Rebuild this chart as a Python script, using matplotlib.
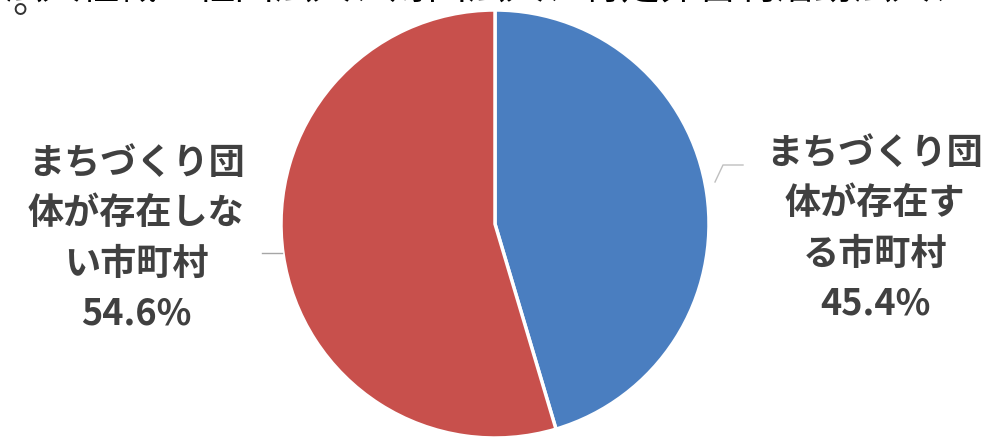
import matplotlib
matplotlib.use("Agg")
import matplotlib.pyplot as plt

plt.rcParams['font.family'] = ['Noto Sans CJK JP', 'DejaVu Sans']

# Data
categories = ["まちづくり団体が存在する市町村", "まちづくり団体が存在しない市町村"]
label_lines = [["まちづくり団", "体が存在す", "る市町村"],
               ["まちづくり団", "体が存在しな", "い市町村"]]
values = [45.4, 54.6]
colors = ["#4A7EC0", "#C8504C"]
header_line1 = "法人組織：社団法人、財団法人、特定非営利活動法人、"
header_line2 = "。"

W, H = 991, 441
fig = plt.figure(figsize=(W / 100, H / 100), dpi=100)
ax = fig.add_axes([0, 0, 1, 1])

cx, cy, r = 495, H - 224, 214
ax.pie(values, colors=colors, startangle=90, counterclock=False,
       center=(cx, cy), radius=r, frame=True,
       wedgeprops=dict(edgecolor='white', linewidth=2.5))
ax.set_xlim(0, W)
ax.set_ylim(0, H)
ax.set_aspect('equal')
ax.axis('off')

# labels
label_pos = [(875, H - 229), (136, H - 239)]
for lines, v, (x, y) in zip(label_lines, values, label_pos):
    txt = "\n".join(lines + [f"{v:.1f}%"])
    ax.text(x, y, txt, ha='center', va='center', fontsize=26,
            fontweight='bold', color='#404040', linespacing=1.45)

# leader lines
ax.plot([715, 723, 743], [H - 182, H - 165, H - 165], color='#BFBFBF', lw=1)
ax.plot([262, 282], [H - 253, H - 253], color='#A6A6A6', lw=1)

# cut-off header text (anchored inside the canvas, bottom edge near the top)
ax.text(4, H - 8, header_line1, ha='left', va='bottom', fontsize=27.8,
        color='black', clip_on=False)
ax.text(12, H - 12, header_line2, ha='left', va='baseline', fontsize=28,
        color='#333333', clip_on=False)

fig.savefig("out.png", dpi=100)
